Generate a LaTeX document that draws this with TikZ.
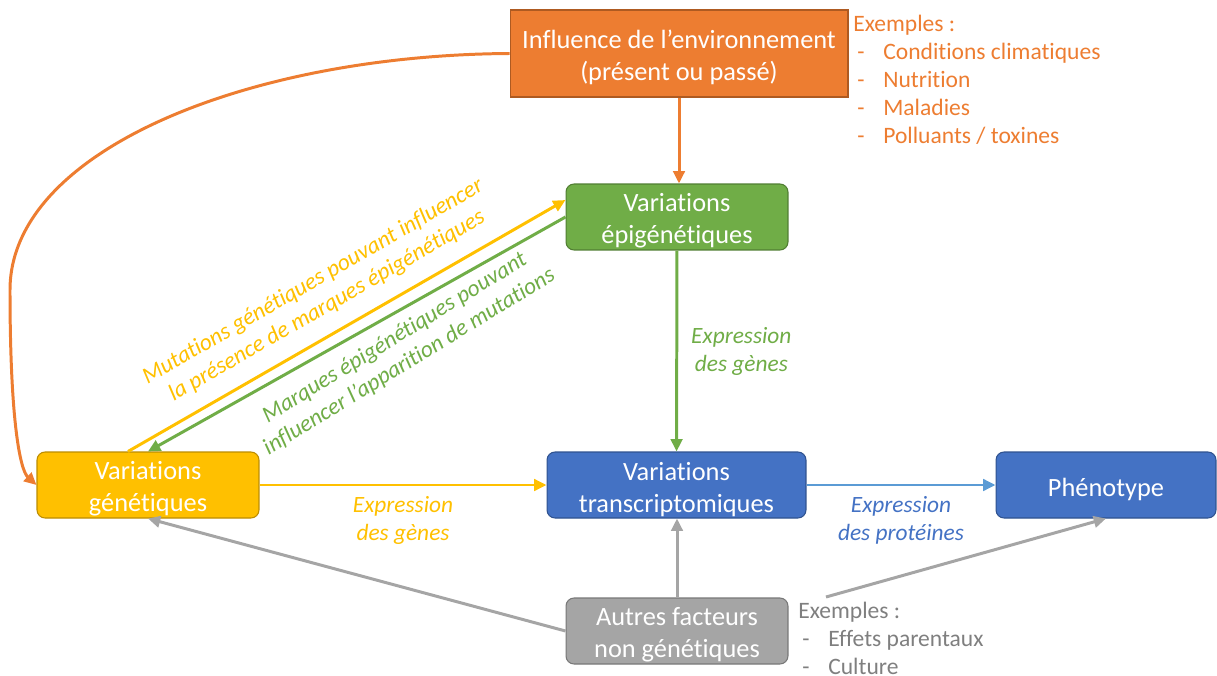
\documentclass[tikz,border=0pt]{standalone}
\usepackage{fontspec}
\setmainfont{Carlito}[Ligatures=NoCommon]
\usetikzlibrary{arrows.meta}

\definecolor{envorange}{HTML}{ED7D31}
\definecolor{envedge}{HTML}{AE5A21}
\definecolor{epigreen}{HTML}{70AD47}
\definecolor{epiedge}{HTML}{507E32}
\definecolor{genyellow}{HTML}{FFC000}
\definecolor{genedge}{HTML}{BC8C00}
\definecolor{transblue}{HTML}{4472C4}
\definecolor{transedge}{HTML}{2F528F}
\definecolor{protblue}{HTML}{5B9BD5}
\definecolor{othergray}{HTML}{A5A5A5}
\definecolor{otheredge}{HTML}{787878}
\definecolor{notegray}{HTML}{7F7F7F}

\newcommand{\exitem}[1]{\makebox[0.6cm][l]{\hspace{0.08cm}-}#1}
\newcommand{\boxstrut}{\rule{0pt}{15pt}}

\begin{document}
\begin{tikzpicture}[
    x=0.02cm, y=-0.02cm,
    box/.style={draw, rounded corners=0.16cm, align=center, text=white, line width=0.6pt, minimum width=4.44cm, minimum height=1.32cm, inner sep=0pt, font=\fontsize{15}{18.2}\selectfont},
    note/.style={align=left, anchor=north west, inner sep=0pt, font=\fontsize{13.4}{15.9}\selectfont},
    lbl/.style={align=center, inner sep=0pt, font=\fontsize{13.3}{15.9}\selectfont\itshape},
    link/.style={-{Triangle[length=7pt,width=6.5pt]}, line width=1.7pt}
]
\useasboundingbox (0,0) rectangle (1217,676);

% boxes
\node[box, sharp corners, fill=envorange, draw=envedge, minimum width=6.76cm, minimum height=1.74cm] (env) at (679,53.5) {\boxstrut Influence de l’environnement\\(présent ou passé)};
\node[box, fill=epigreen, draw=epiedge] (epi) at (677,217) {\boxstrut Variations\\épigénétiques};
\node[box, fill=genyellow, draw=genedge] (gen) at (148,485) {\boxstrut Variations\\génétiques};
\node[box, fill=transblue, draw=transedge, minimum width=5.18cm] (trans) at (676.5,485) {\boxstrut Variations\\transcriptomiques};
\node[box, fill=transblue, draw=transedge, minimum width=4.4cm] (pheno) at (1106,485) {\boxstrut Phénotype};
\node[box, fill=othergray, draw=otheredge] (autres) at (677,631) {\boxstrut Autres facteurs\\non génétiques};

% examples
\node[note, text=envorange] (envex) at (853,15) {Exemples :\\\exitem{Conditions climatiques}\\\exitem{Nutrition}\\\exitem{Maladies}\\\exitem{Polluants / toxines}};
\node[note, text=notegray] (autresex) at (798,602) {Exemples :\\\exitem{Effets parentaux}\\\exitem{Culture}};
\coordinate (grayorig) at (826,597);

% arrows
\draw[link, envorange] (env.south) -- (env.south |- epi.north);
\draw[link, envorange] (env.west) .. controls (250,55) and (10,150) .. (10,290) .. controls (10,420) and (20,470) .. (gen.west);
\draw[link, epigreen] (epi) -- (trans) node[lbl, midway, right=0.26cm, text=epigreen] (lblepi) {Expression\\des gènes};
\draw[link, genyellow] (gen) -- (trans) node[lbl, midway, below=0.2cm, text=genyellow] (lblgen) {Expression\\des gènes};
\draw[link, protblue] (trans) -- (pheno) node[lbl, midway, below=0.2cm, text=transblue] (lblprot) {Expression\\des protéines};
\draw[link, genyellow] ([xshift=-0.4cm]gen.north) -- ([yshift=0.34cm]epi.west);
\draw[link, epigreen] (epi.west) -- (gen.north);
\draw[link, othergray] (autres.west) -- (gen.south);
\draw[link, othergray] (autres.north) -- (autres.north |- trans.south);
\draw[link, othergray] (grayorig) -- (pheno.south);

% sloped labels
\node[lbl, text=genyellow, rotate=30] (lblmut) at (320,294) {Mutations génétiques pouvant influencer\\la présence de marques épigénétiques};
\node[lbl, text=epigreen, rotate=31.5] (lblmarq) at (402,350) {Marques épigénétiques pouvant\\influencer l’apparition de mutations};
\end{tikzpicture}
\end{document}
